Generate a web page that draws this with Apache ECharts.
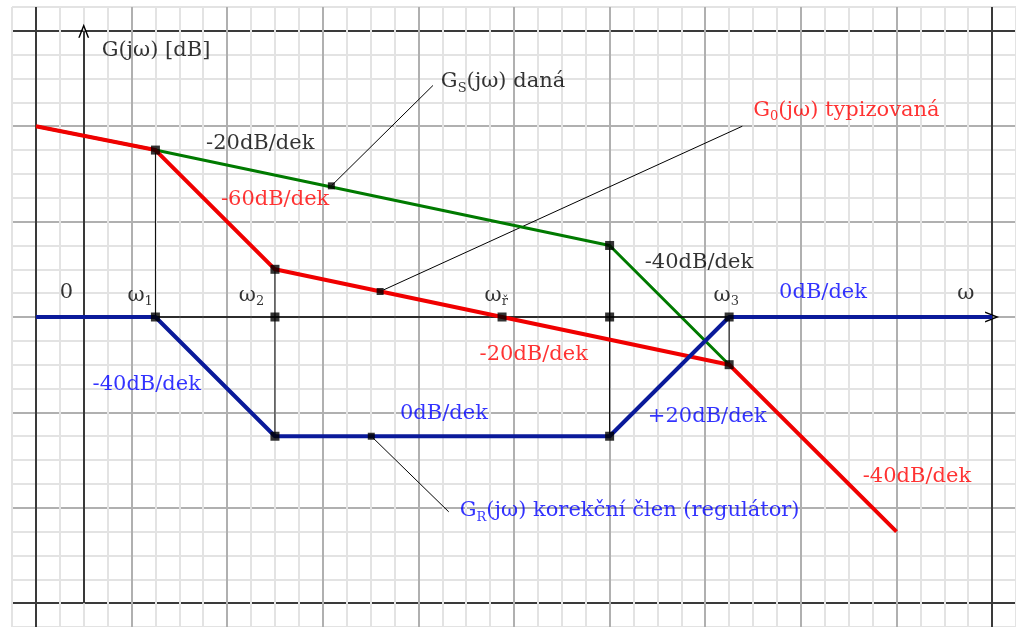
<!DOCTYPE html>
<html lang="cs">
<head>
    <meta charset="UTF-8">
    <title>Bodeho diagram - korekce</title>
    <script src="https://cdn.jsdelivr.net/npm/echarts@6/dist/echarts.min.js"></script>
    <style>
        body { margin: 0; background: #fff; }
    </style>
</head>
<body>
<div id="main" style="width: 1016px;height:627px;"></div>
<script>
    // asymptoty (x = log w v dilcich mrizky, y = dB v dilcich)
    var gsX = [0, 5, 24, 29];
    var gsY = [8, 7, 3, -2];
    var goX = [0, 5, 10, 29, 36];
    var goY = [8, 7, 2, -2, -9];
    var grX = [0, 5, 10, 24, 29, 40];
    var grY = [0, 0, -5, -5, 0, 0];

    // lomove body a pomocne svislice
    var bodyX = [5, 5, 10, 10, 10, 19.5, 24, 24, 24, 29, 29];
    var bodyY = [7, 0, 2, 0, -5, 0, 3, 0, -5, 0, -2];
    var svisleX = [5, 10, 24, 29];
    var svisleOd = [0, -5, -5, -2];
    var svisleDo = [7, 2, 3, 0];

    // popisky krivek (odkazove cary)
    var odkazOdX = [12.36, 14.4, 14.03];
    var odkazOdY = [5.5, 1.07, -5];
    var odkazDoX = [16.61, 29.55, 17.27];
    var odkazDoY = [9.71, 8.0, -8.17];

    var popisy = ['G(jω) [dB]', '-20dB/dek', '-60dB/dek', 'G{sub|S}(jω) daná', 'G{sub|0}(jω) typizovaná',
        '-40dB/dek', '0', 'ω{sub|1}', 'ω{sub|2}', 'ω{sub|ř}', 'ω{sub|3}', '0dB/dek', 'ω',
        '-40dB/dek', '-20dB/dek', '0dB/dek', '+20dB/dek', '-40dB/dek', 'G{sub|R}(jω) korekční člen (regulátor)'];
    var popisX = [2.75, 7.12, 7.74, 16.94, 30.01, 25.47, 1.0, 3.83, 8.49, 18.77, 28.35, 31.09, 38.54,
        2.37, 18.56, 15.23, 25.6, 34.59, 17.73];
    var popisY = [11.17, 7.29, 4.92, 9.87, 8.67, 2.29, 1.04, 0.92, 0.92, 0.9, 0.9, 1.04, 1.0,
        -2.83, -1.58, -4.04, -4.17, -6.67, -8.12];
    var popisBarva = ['#000', '#000', '#f00', '#000', '#f00', '#000', '#000', '#000', '#000', '#000', '#000', '#00f', '#000',
        '#00f', '#f00', '#00f', '#00f', '#f00', '#00f'];

    function barvyMrizky(min, max, okraj) {
        var c = [];
        for (var v = min; v <= max; v++) {
            if (okraj.indexOf(v) >= 0) c.push('#3a3a3a');
            else if (v % 4 === 0) c.push('#b0b0b0');
            else c.push('#e3e3e3');
        }
        return c;
    }

    function body(xs, ys) {
        return xs.map(function (x, i) { return [x, ys[i]]; });
    }

    var sipka = 'path://M0,12 L5,0 L10,12 L8.6,12 L5,3.2 L1.4,12 Z';
    var font = '"DejaVu Serif", serif';

    var svisle = [];
    svisleX.forEach(function (x, i) {
        svisle.push([x, svisleOd[i]], [x, svisleDo[i]], '-');
    });
    var odkazy = [];
    odkazOdX.forEach(function (x, i) {
        odkazy.push([x, odkazOdY[i]], [odkazDoX[i], odkazDoY[i]], '-');
    });

    var myChart = echarts.init(document.getElementById('main'));
    var option = {
        animation: false,
        backgroundColor: '#fff',
        grid: { left: 12, top: 7, width: 42 * 24.025, height: 26 * 24 },
        xAxis: {
            type: 'value', min: -1, max: 41, interval: 1,
            axisLine: { show: false }, axisTick: { show: false }, axisLabel: { show: false },
            splitLine: { show: true, lineStyle: { color: barvyMrizky(-1, 41, [0, 40]), width: 2 } }
        },
        yAxis: {
            type: 'value', min: -13, max: 13, interval: 1,
            axisLine: { show: false }, axisTick: { show: false }, axisLabel: { show: false },
            splitLine: { show: true, lineStyle: { color: barvyMrizky(-13, 13, [12, -12]), width: 2 } }
        },
        series: [
            {
                // osy
                type: 'line', data: [], silent: true, z: 3,
                markLine: {
                    silent: true, animation: false,
                    symbol: ['none', sipka], symbolSize: [11, 14],
                    label: { show: false },
                    lineStyle: { color: '#000', type: 'solid', width: 1.5 },
                    data: [
                        [{ coord: [0, 0] }, { coord: [40, 0] }],
                        [{ coord: [2, -12] }, { coord: [2, 12] }]
                    ]
                }
            },
            {
                type: 'line', data: svisle, symbol: 'none', z: 3, connectNulls: false,
                lineStyle: { color: '#000', width: 1 }
            },
            {
                type: 'line', data: odkazy, symbol: 'none', z: 3, connectNulls: false,
                lineStyle: { color: '#000', width: 1 }
            },
            {
                name: 'GS', type: 'line', data: body(gsX, gsY), symbol: 'none', z: 4,
                lineStyle: { color: '#007a00', width: 3 }
            },
            {
                name: 'G0', type: 'line', data: body(goX, goY), symbol: 'none', z: 5,
                lineStyle: { color: '#f00000', width: 4 }
            },
            {
                name: 'GR', type: 'line', data: body(grX, grY), symbol: 'none', z: 6,
                lineStyle: { color: '#0a1a9a', width: 4 }
            },
            {
                type: 'scatter', data: body(bodyX, bodyY), symbol: 'rect', symbolSize: 9, z: 7,
                itemStyle: { color: '#000' }
            },
            {
                type: 'scatter', data: body(odkazOdX, odkazOdY), symbol: 'rect', symbolSize: 7, z: 7,
                itemStyle: { color: '#000' }
            },
            {
                type: 'scatter', symbolSize: 0, z: 8, silent: true,
                data: popisy.map(function (t, i) {
                    return {
                        value: [popisX[i], popisY[i]],
                        label: { formatter: t, color: popisBarva[i] }
                    };
                }),
                label: {
                    show: true, position: 'inside', align: 'left', verticalAlign: 'middle',
                    fontFamily: font, fontSize: 21,
                    rich: {
                        sub: { fontFamily: font, fontSize: 13, padding: [13, 0, 0, 0] }
                    }
                }
            }
        ]
    };
    myChart.setOption(option);
</script>
</body>
</html>
